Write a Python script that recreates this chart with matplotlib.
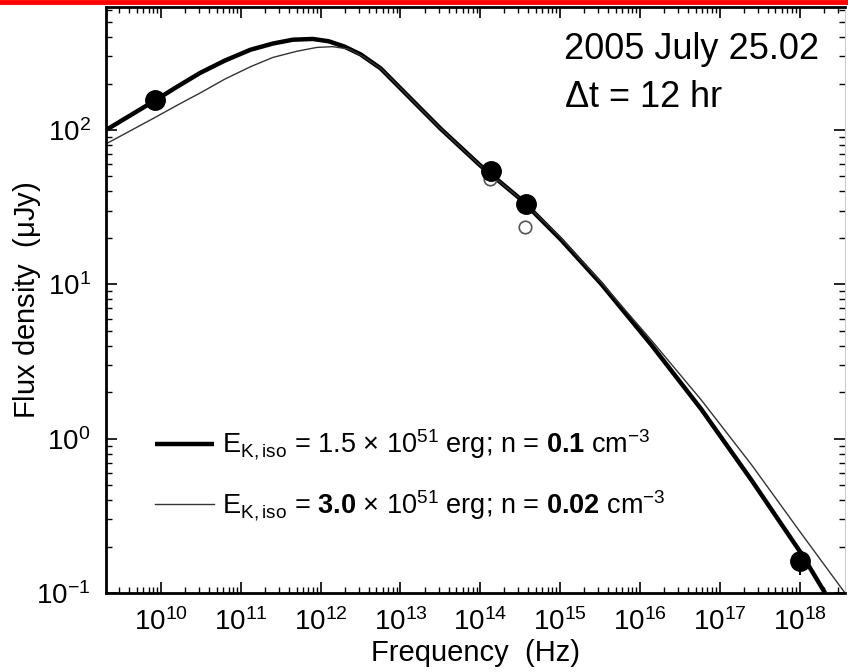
import numpy as np
import matplotlib
matplotlib.use("Agg")
import matplotlib.pyplot as plt
from matplotlib.lines import Line2D
from matplotlib.ticker import LogLocator, NullFormatter

plt.rcParams['font.family'] = ['Liberation Sans', 'DejaVu Sans']
plt.rcParams['mathtext.fontset'] = 'custom'
plt.rcParams['mathtext.rm'] = 'Liberation Sans'
plt.rcParams['mathtext.it'] = 'Liberation Sans:italic'
plt.rcParams['mathtext.bf'] = 'Liberation Sans:bold'

# model curves (log10 nu, log10 flux)
thick_lognu = [9.31, 9.92, 10.20, 10.49, 10.80, 11.12, 11.40, 11.65, 11.90, 12.10, 12.30,
               12.50, 12.75, 13.00, 13.25, 13.50, 13.75, 14.00, 14.51, 15.01, 15.52,
               16.14, 16.77, 17.40, 18.03, 18.32]
thick_logf = [2.00, 2.19, 2.28, 2.37, 2.45, 2.52, 2.56, 2.585, 2.59, 2.575, 2.54,
              2.49, 2.40, 2.27, 2.14, 2.01, 1.89, 1.77, 1.55, 1.29, 1.00,
              0.61, 0.19, -0.27, -0.75, -1.00]

thin_lognu = [9.31, 9.92, 10.20, 10.49, 10.80, 11.12, 11.40, 11.70, 11.95, 12.15, 12.35,
              12.55, 12.75, 13.00, 13.25, 13.50, 13.75, 14.00, 14.51, 15.01, 15.52,
              16.14, 16.77, 17.40, 18.03, 18.57]
thin_logf = [1.91, 2.08, 2.16, 2.24, 2.33, 2.41, 2.47, 2.51, 2.535, 2.54, 2.525,
             2.47, 2.40, 2.27, 2.14, 2.01, 1.89, 1.77, 1.55, 1.30, 1.01,
             0.64, 0.25, -0.17, -0.62, -1.00]

# observed flux densities
obs_nu = [8.46e9, 1.35e14, 3.7e14, 1.0e18]
obs_flux = [157, 54, 33, 0.16]
obs_err = [0, 0, 0, 0.03]
open_nu = [1.33e14, 3.65e14]
open_flux = [48, 23.5]

x_ticks = [1e10, 1e11, 1e12, 1e13, 1e14, 1e15, 1e16, 1e17, 1e18]
y_ticks = [0.1, 1, 10, 100]

labels = [r'$\mathregular{E_{K,iso}}$ = 1.5 $\times$ 10$^{51}$ erg; n = $\mathbf{0.1}$ cm$^{-3}$',
          r'$\mathregular{E_{K,iso}}$ = $\mathbf{3.0}$ $\times$ 10$^{51}$ erg; n = $\mathbf{0.02}$ cm$^{-3}$']

fig = plt.figure(figsize=(8.48, 6.72), dpi=100)
ax = fig.add_axes([106 / 848, 79 / 672, 739 / 848, 586 / 672])

l1, = ax.plot(10 ** np.array(thick_lognu), 10 ** np.array(thick_logf), color='black', lw=3.2,
              solid_capstyle='butt', solid_joinstyle='round')
l2, = ax.plot(10 ** np.array(thin_lognu), 10 ** np.array(thin_logf), color='#333333', lw=1.0)

ax.plot(open_nu, open_flux, 'o', ms=9, mfc='white', mec='#555555', mew=1.2, zorder=3)
ax.errorbar(obs_nu, obs_flux, yerr=obs_err, fmt='o', ms=14, color='black', ecolor='black',
            elinewidth=1.5, capsize=0, zorder=4)

ax.set_xscale('log')
ax.set_yscale('log')
ax.set_xlim(10 ** 9.31, 10 ** 18.57)
ax.set_ylim(0.1, 10 ** 2.797)

ax.set_xticks(x_ticks)
ax.set_yticks(y_ticks)
ax.xaxis.set_minor_locator(LogLocator(base=10, subs=np.arange(2, 10), numticks=20))
ax.xaxis.set_minor_formatter(NullFormatter())
ax.yaxis.set_minor_locator(LogLocator(base=10, subs=np.arange(2, 10), numticks=20))
ax.yaxis.set_minor_formatter(NullFormatter())

ax.tick_params(which='both', direction='in', top=True, right=True, labelsize=20)
ax.tick_params(which='major', length=8, width=1.2, pad=11)
ax.tick_params(which='minor', length=4, width=1.0)

for side in ['left', 'bottom', 'top']:
    ax.spines[side].set_linewidth(2)
ax.spines['right'].set_color('#cccccc')
ax.spines['right'].set_linewidth(0.8)

ax.set_xlabel('Frequency  (Hz)', fontsize=21, labelpad=2)
ax.set_ylabel(r'Flux density  ($\mathregular{\mu}$Jy)', fontsize=21)
ax.yaxis.set_label_coords(-0.085, 0.5)

ax.text(0.62, 0.927, '2005 July 25.02', transform=ax.transAxes, fontsize=26, va='center')
ax.text(0.62, 0.845, r'$\Delta$t = 12 hr', transform=ax.transAxes, fontsize=26, va='center')

ax.legend([l1, l2], labels, loc='lower left', bbox_to_anchor=(0.066, 0.12), frameon=False,
          fontsize=19.5, handlelength=2.2, handletextpad=0.3, labelspacing=0.95, borderpad=0,
          borderaxespad=0)

fig.add_artist(Line2D([0, 1], [0.997, 0.997], transform=fig.transFigure, color='red', lw=3.5))

fig.savefig('out.png', dpi=100)
